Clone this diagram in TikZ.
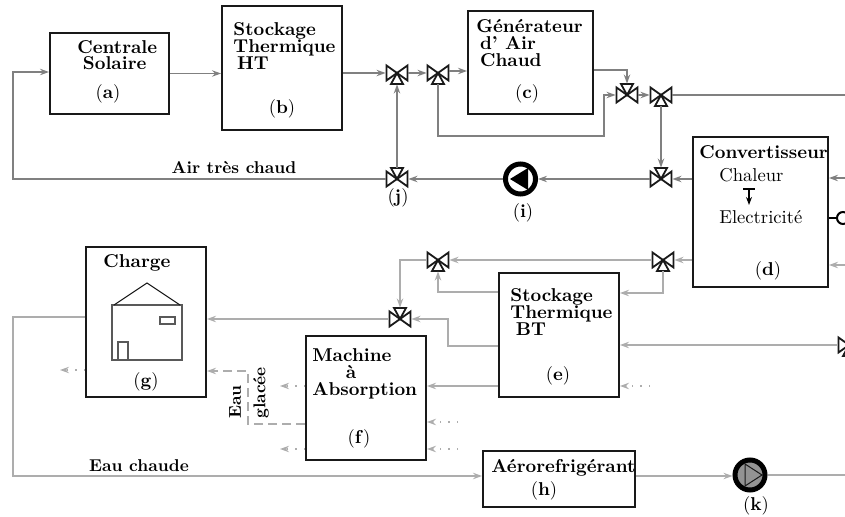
\documentclass[tikz,border=0pt]{standalone}
\usepackage{xcolor}
\usepackage{tikz}
\usetikzlibrary{arrows.meta,calc}
\definecolor{airgris}{gray}{0.50}
\definecolor{eaugris}{gray}{0.68}
\definecolor{traitnoir}{gray}{0.10}
\tikzset{
  boite/.style={draw=traitnoir,line width=0.95pt,fill=white,inner sep=0pt,
                minimum width=#1},
  titre/.style={anchor=west,inner sep=0pt,align=left,font=\bfseries,scale=0.93},
  legende/.style={titre,anchor=center,scale=0.92},
  normal/.style={anchor=west,inner sep=0pt,scale=0.93},
  repere/.style={inner sep=0pt,scale=0.93},
  vanneno/.style={circle,inner sep=0pt,minimum size=11pt},
  air/.style={draw=airgris,line width=0.7pt,-{Stealth[length=4.5pt,width=3.2pt]}},
  airsimple/.style={draw=airgris,line width=0.7pt},
  eau/.style={draw=eaugris,line width=0.7pt,-{Stealth[length=4.5pt,width=3.2pt]}},
  eausimple/.style={draw=eaugris,line width=0.7pt},
  tirets/.style={eau,dash pattern=on 4.5pt off 2.5pt},
  points/.style={eau,dash pattern=on 0.7pt off 3.5pt},
}
% vanne trois voies : nom, position, sens du petit triangle (1 bas, -1 haut)
\newcommand{\vanne}[3]{%
  \node[vanneno] (#1) at (#2) {};
  \draw[traitnoir,line width=0.9pt,line join=miter,fill=white]
    ($(#1.center)+(-10.5,-7.5)$) -- ($(#1.center)+(10.5,7.5)$) -- ($(#1.center)+(10.5,-7.5)$)
    -- ($(#1.center)+(-10.5,7.5)$) -- cycle;
  \draw[traitnoir,line width=0.9pt,fill=white]
    (#1.center) -- ($(#1.center)+(-6,#3*11)$) -- ($(#1.center)+(6,#3*11)$) -- cycle;
}
\begin{document}
\begin{tikzpicture}[x=0.5pt,y=-0.5pt]
    \useasboundingbox (0,0) rectangle (845,517);
    \clip (0,0) rectangle (845,517);
    % les blocs
    \node[boite=59.5pt,minimum height=40.5pt] (a) at (109.5,73.5) {};
    \node[boite=60pt,minimum height=62pt]     (b) at (282,68) {};
    \node[boite=62.5pt,minimum height=51.5pt] (c) at (530.5,62.5) {};
    \node[boite=67.5pt,minimum height=75pt]   (d) at (760.5,212) {};
    \node[boite=60pt,minimum height=62pt]     (e) at (559,335) {};
    \node[boite=60pt,minimum height=62pt]     (f) at (366,398) {};
    \node[boite=60pt,minimum height=75pt]     (g) at (146,322) {};
    \node[boite=76pt,minimum height=28pt]     (h) at (559,479) {};
    % textes des blocs
    \node[titre] (ta) at (77,55) {Centrale\\[-3pt]\hspace*{3pt}Solaire};
    \node[titre] (tb) at (233,46) {Stockage\\[-3pt]Thermique\\[-3pt]\hspace*{2pt}HT};
    \node[titre] (tc) at (476,43) {G\'en\'erateur\\[-3pt]\hspace*{2pt}d' Air\\[-3pt]\hspace*{2pt}Chaud};
    \node[titre] (td) at (699,152) {Convertisseur};
    \node[titre] (te) at (510,312) {Stockage\\[-3pt]Thermique\\[-3pt]\hspace*{3pt}BT};
    \node[titre] (tf) at (312,374) {Machine\\[-3pt]\hspace*{18pt}\`a\\[-3pt]Absorption};
    \node[titre] (tg) at (103,263) {Charge};
    \node[titre] (th) at (491,468) {A\'erorefrig\'erant};
    \node[normal] (chal) at (719,175) {Chaleur};
    \node[normal] (elec) at (719,217) {Electricit\'e};
    \node[repere] (la) at (108,94) {(\textbf{a})};
    \node[repere] (lb) at (282,109) {(\textbf{b})};
    \node[repere] (lc) at (527,94) {(\textbf{c})};
    \node[repere] (ld) at (768,271) {(\textbf{d})};
    \node[repere] (le) at (558,376) {(\textbf{e})};
    \node[repere] (lf) at (359,439) {(\textbf{f})};
    \node[repere] (lg) at (146,382) {(\textbf{g})};
    \node[repere] (lh) at (544,491) {(\textbf{h})};
    \node[repere] (li) at (523,213) {(\textbf{i})};
    \node[repere] (lj) at (398,198) {(\textbf{j})};
    \node[repere] (lk) at (756,506) {(\textbf{k})};
    \node[legende] (tair) at (234,168) {Air tr\`es chaud};
    \node[legende] (teau) at (139,466) {Eau chaude};
    \node[legende,rotate=90] (tglace1) at (235,402) {Eau};
    \node[legende,rotate=90] (tglace2) at (261,393) {glac\'ee};
    % la maison
    \draw[airgris!70!black,line width=0.6pt] (112,305) rectangle (182,360);
    \draw[airgris!70!black,line width=0.6pt] (118,342) rectangle (128,360);
    \draw[airgris!70!black,line width=0.6pt] (160,317) rectangle (175,324);
    \draw[traitnoir,line width=0.5pt] (114,305) -- (147,283) -- (180,305);
    % fleche chaleur vers electricite
    \coordinate (hautconv) at (749,189);
    \coordinate (basconv) at (749,205);
    \draw[black,line width=0.6pt,-{Stealth[length=4pt,width=3pt]}] (hautconv) -- (basconv);
    \draw[black,line width=0.6pt] ($(hautconv)+(-6,0)$) -- ($(hautconv)+(6,0)$);
    % les pompes
    \node[circle,draw=black,line width=2.5pt,fill=white,minimum size=15pt,inner sep=0pt] (i) at (520.5,179) {};
    \fill[black] (510,179) -- (528,168) -- (528,190) -- cycle;
    \node[circle,draw=black,line width=2.5pt,fill=gray!85,minimum size=15pt,inner sep=0pt] (k) at (750,475) {};
    \draw[traitnoir,line width=0.5pt] (745,464) -- (762,475) -- (745,486) -- cycle;
    % les vannes
    \vanne{va}{397,73}{1}
    \vanne{vb}{438,73}{1}
    \vanne{vc}{627,95}{-1}
    \vanne{vd}{661,95}{1}
    \vanne{ve}{661,179}{-1}
    \vanne{j}{397,179}{-1}
    \vanne{vf}{438,260}{1}
    \vanne{vg}{663,260}{1}
    \vanne{vh}{400,319}{-1}
    \vanne{vi}{849,345}{1}
    % bords droits
    \coordinate (bordh) at (845,95);
    \coordinate (bordd) at (845,178);
    \coordinate (borde) at (845,218);
    \coordinate (bordg) at (845,265);
    \coordinate (bordk) at (845,475);
    \coordinate (gauche) at (13,179);
    % circuit d'air
    \draw[air] (j.west) -- (gauche) |- (a.west |- 0,72);
    \draw[air] (a.east) -- (a.east -| b.west);
    \draw[air] (b.east |- va) -- (va.west);
    \draw[air] (va.east) -- (vb.west);
    \draw[air] (vb.east |- 0,71) -- (c.west |- 0,71);
    \draw[air] (c.east |- 0,70) -| (vc.north);
    \draw[air] (vb.south) |- (604,136) |- (vc.west);
    \draw[air] (vc.east) -- (vd.west);
    \draw[airsimple] (vd.east) -- (bordh);
    \draw[air] (vd.south) -- (ve.north);
    \draw[air] (d.west |- ve) -- (ve.east);
    \draw[air] (ve.west) -- (i.east);
    \draw[air] (i.west) -- (j.east);
    \draw[air] (j.north) -- (va.south);
    \draw[air] (bordd) -- (d.east |- bordd);
    \draw[black,line width=1pt] (d.east |- borde) -- (840,218);
    \draw[black,line width=1pt,fill=white] (843,218) circle (3pt);
    % circuit d'eau
    \draw[eau] (bordg) -- (d.east |- bordg);
    \draw[eau] (d.west |- vg) -- (vg.east);
    \draw[eau] (vg.west) -- (vf.east);
    \draw[eau] (e.west |- 0,292) -| (vf.south);
    \draw[eau] (vg.south) |- (e.east |- 0,293);
    \draw[eau] (vf.west) -| (vh.north);
    \draw[eau] (e.west |- 0,346) -| (448,319) -- (vh.east);
    \draw[eau] (vh.west) -- (g.east |- vh);
    \draw[eau] (g.west |- 0,317) -| (13,476) -- (h.west |- 0,476);
    \draw[eau] (h.east |- 0,476) -- (k.west |- 0,476);
    \draw[eausimple] (k.east) -- (bordk);
    \draw[eau] (vi.west) -- (e.east |- vi);
    \draw[eau] (e.west |- 0,386) -- (f.east |- 0,386);
    % eau glacee
    \draw[tirets] (f.west |- 0,424) -- (248,424) -- (248,371) -- (g.east |- 0,371);
    % liaisons en pointilles
    \draw[points] (650,386) -- (e.east |- 0,386);
    \draw[points] (458,422) -- (f.east |- 0,422);
    \draw[points] (458,449) -- (f.east |- 0,449);
    \draw[points] (f.west |- 0,386) -- (280,386);
    \draw[points] (f.west |- 0,449) -- (280,449);
    \draw[points] (g.west |- 0,370) -- (60,370);
  \end{tikzpicture}
\end{document}
